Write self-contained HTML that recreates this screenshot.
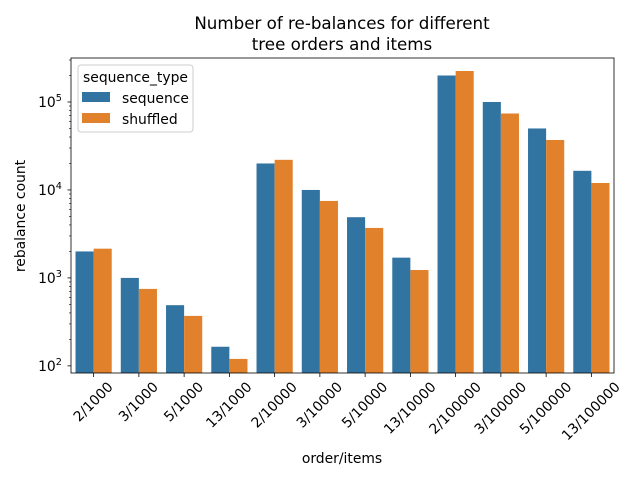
<!DOCTYPE html>
<html><head><meta charset="utf-8"><style>body{margin:0;background:#fff}svg{font-family:"DejaVu Sans","Liberation Sans",sans-serif}</style></head>
<body>
<svg id="c" width="640" height="480" xmlns="http://www.w3.org/2000/svg"></svg>
<script>
const categories=["2/1000","3/1000","5/1000","13/1000","2/10000","3/10000","5/10000","13/10000","2/100000","3/100000","5/100000","13/100000"];
const sequenceValues=[2000,1000,490,165,20000,10000,4900,1700,200000,100000,50000,16500];
const shuffledValues=[2150,750,370,120,22000,7500,3700,1230,225000,74000,37000,12000];
const yTickExps=[2,3,4,5];
const L=71,R=614,T=58,B=373,yMin=Math.log10(83),yMax=5.5;
const ns="http://www.w3.org/2000/svg",svg=document.getElementById('c');
function y(v){return B-(Math.log10(v)-yMin)/(yMax-yMin)*(B-T);}
const step=(R-L)/categories.length;
function xc(i){return L+step*(i+0.5);}
function el(t,a,p){const e=document.createElementNS(ns,t);for(const k in a)e.setAttribute(k,a[k]);(p||svg).appendChild(e);return e;}
const bw=step*0.4;
categories.forEach((c,i)=>{
 const b1=el('rect',{x:xc(i)-bw,y:y(sequenceValues[i]),width:bw,height:B-y(sequenceValues[i]),fill:'#3274a1'});
 
 
 const b2=el('rect',{x:xc(i),y:y(shuffledValues[i]),width:bw,height:B-y(shuffledValues[i]),fill:'#e1812c'});
 
 
 el('line',{x1:xc(i),x2:xc(i),y1:B,y2:B+4,stroke:'#000','stroke-width':0.8});
 const t=el('text',{x:0,y:0,'font-size':13.9,'text-anchor':'middle','dominant-baseline':'central'});
 t.textContent=c;
 
 
 const w=t.getComputedTextLength();
 const half=(w+14)*0.7071/2;
 const cx=xc(i),cy=B+7+half;
 t.setAttribute('x',cx);t.setAttribute('y',cy);
 t.setAttribute('transform',`rotate(-45 ${cx} ${cy})`);
});
for(let e=2;e<=5;e++){for(let m=1;m<10;m++){const v=m*Math.pow(10,e);if(Math.log10(v)>yMax)break;if(Math.log10(v)<yMin)continue;
 el('line',{x1:L,x2:L-(m==1?3.5:2),y1:y(v),y2:y(v),stroke:'#000','stroke-width':m==1?0.8:0.6});}}
yTickExps.forEach(e=>{const t=el('text',{x:L-21,y:y(Math.pow(10,e))+5,'font-size':13.9,'text-anchor':'middle'});
 t.innerHTML='10<tspan dy="-6" font-size="9.7">'+e+'</tspan>';
 
 });
el('rect',{x:L,y:T,width:R-L,height:B-T,fill:'none',stroke:'#000','stroke-width':0.8});
</script>
<svg width="640" height="480" style="position:absolute;left:0;top:0">
<text x="342" y="29" font-size="16.7" text-anchor="middle">Number of re-balances for different</text>
<text x="342" y="50" font-size="16.7" text-anchor="middle">tree orders and items</text>
<text x="342" y="463" font-size="13.9" text-anchor="middle">order/items</text>
<text x="25" y="216" font-size="13.9" text-anchor="middle" transform="rotate(-90 25 216)">rebalance count</text>
<g>
<rect x="78" y="65" width="115" height="67" rx="3" fill="#fff" fill-opacity="0.8" stroke="#ccc"/>
<text x="135.5" y="82" font-size="13.9" text-anchor="middle">sequence_type</text>
<rect x="82" y="92" width="28" height="10" fill="#3274a1"/>
<text x="122" y="103" font-size="13.9">sequence</text>
<rect x="82" y="113" width="28" height="10" fill="#e1812c"/>
<text x="122" y="124" font-size="13.9">shuffled</text>
</g>
</svg>
</body></html>
